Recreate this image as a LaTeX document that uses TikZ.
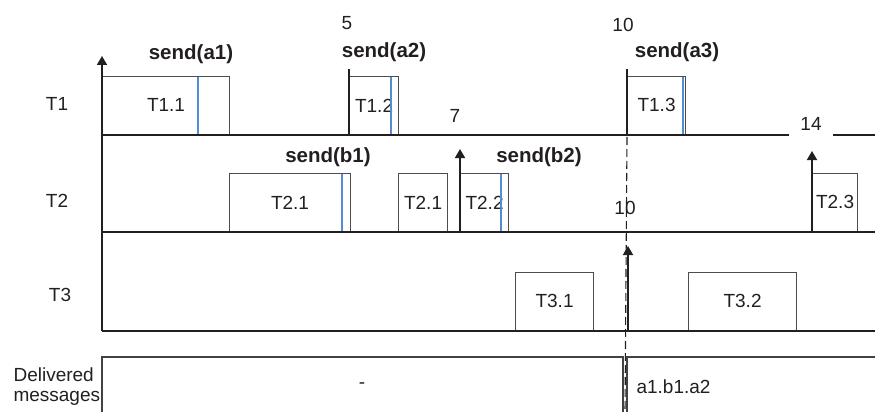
\documentclass[tikz,border=0pt]{standalone}
\usepackage{fontspec}
\setmainfont{Liberation Sans}
\usetikzlibrary{arrows.meta, positioning}

\definecolor{sendblue}{RGB}{84,141,212}
\definecolor{ink}{RGB}{35,31,32}

\tikzset{
  taskbox/.style={draw=ink!80, line width=1.1pt, anchor=south west, inner sep=0pt,
    text=ink, font=\fontsize{19}{22}\selectfont},
  timeline/.style={ink, line width=1.6pt},
  sendmark/.style={sendblue, line width=2.8pt},
  sendlabel/.style={text=ink, font=\bfseries\fontsize{20.5}{24}\selectfont},
  plainlabel/.style={text=ink, font=\fontsize{19}{22}\selectfont},
  uparrow/.style={ink, line width=1.7pt, -{Triangle[width=10pt,length=9pt]}},
}

\begin{document}
\begin{tikzpicture}[x=1pt, y=-1pt]
\useasboundingbox (0,0) rectangle (875,412);

% Row labels
\node[plainlabel] (lT1) at (57,104) {T1};
\node[plainlabel] (lT2) at (57,201) {T2};
\node[plainlabel] (lT3) at (60,295) {T3};
\node[plainlabel, anchor=west] (ldel) at (10,375) {Delivered};
\node[plainlabel, anchor=west] (lmsg) at (10,398) {messages};

% Tasks of T1
\node[taskbox, minimum width=127, minimum height=58] (t11) at (102,135) {T1.1};
\node[taskbox, minimum width=49, minimum height=58] (t12) at (349,135) {T1.2};
\node[taskbox, minimum width=58, minimum height=58] (t13) at (627,135) {T1.3};
\draw[ink, line width=1.1pt] (349,69) -- (349,135);
\draw[ink, line width=1.1pt] (627,69) -- (627,135);

% Tasks of T2
\node[taskbox, minimum width=121, minimum height=58] (t21) at (229,232) {T2.1};
\node[taskbox, minimum width=49, minimum height=58] (t21b) at (398,232) {T2.1};
\node[taskbox, minimum width=48, minimum height=58] (t22) at (460,232) {T2.2};
\node[taskbox, minimum width=45, minimum height=58] (t23) at (812,232) {T2.3};

% Tasks of T3
\node[taskbox, minimum width=78, minimum height=58] (t31) at (515,331) {T3.1};
\node[taskbox, minimum width=108, minimum height=58] (t32) at (688,331) {T3.2};

% Send points
\draw[sendmark] (198,77) -- (198,135);
\draw[sendmark] (391,77) -- (391,135);
\draw[sendmark] (683,77) -- (683,135);
\draw[sendmark] (342,174) -- (342,232);
\draw[sendmark] (501,174) -- (501,232);
\node[sendlabel] (sa1) at (191,54) {send(a1)};
\node[sendlabel] (sa2) at (384,52) {send(a2)};
\node[sendlabel] (sa3) at (677,52) {send(a3)};
\node[sendlabel] (sb1) at (328,157) {send(b1)};
\node[sendlabel] (sb2) at (539,157) {send(b2)};

% Time lines and axis
\draw[timeline] (102,135) -- (875,135);
\draw[timeline] (102,232) -- (875,232);
\draw[timeline] (102,331) -- (875,331);
\draw[uparrow] (102,331) -- (102,56);

% Arrivals
\coordinate (a7) at (460,149);
\coordinate (a14) at (812,151);
\coordinate (a10) at (628,246);
\draw[uparrow] (460,232) -- (a7);
\draw[uparrow] (812,232) -- (a14);
\draw[uparrow] (628,331) -- (a10);

% Time marks
\node[plainlabel] (m5) at (347,23) {5};
\node[plainlabel] (m10) at (623,25) {10};
\node[plainlabel] (m7) at (455,116) {7};
\node[plainlabel, fill=white, inner xsep=11pt, inner ysep=6pt] (m14) at (811,124) {14};
\node[plainlabel] (m10b) at (625,208) {10};
\draw[ink, line width=1.1pt, dash pattern=on 8pt off 4pt] (627,137) -- (625,412);

% Delivered messages
\draw[ink!85, line width=1.1pt] (102,412) -- (102,357) -- (623,357) -- (623,412);
\draw[ink!85, line width=1.1pt] (627,412) -- (627,357) -- (875,357);
\node[plainlabel] (dnone) at (362,386) {-};
\node[plainlabel, anchor=west] (dmsgs) at (633,387) {a1.b1.a2};
\end{tikzpicture}
\end{document}
